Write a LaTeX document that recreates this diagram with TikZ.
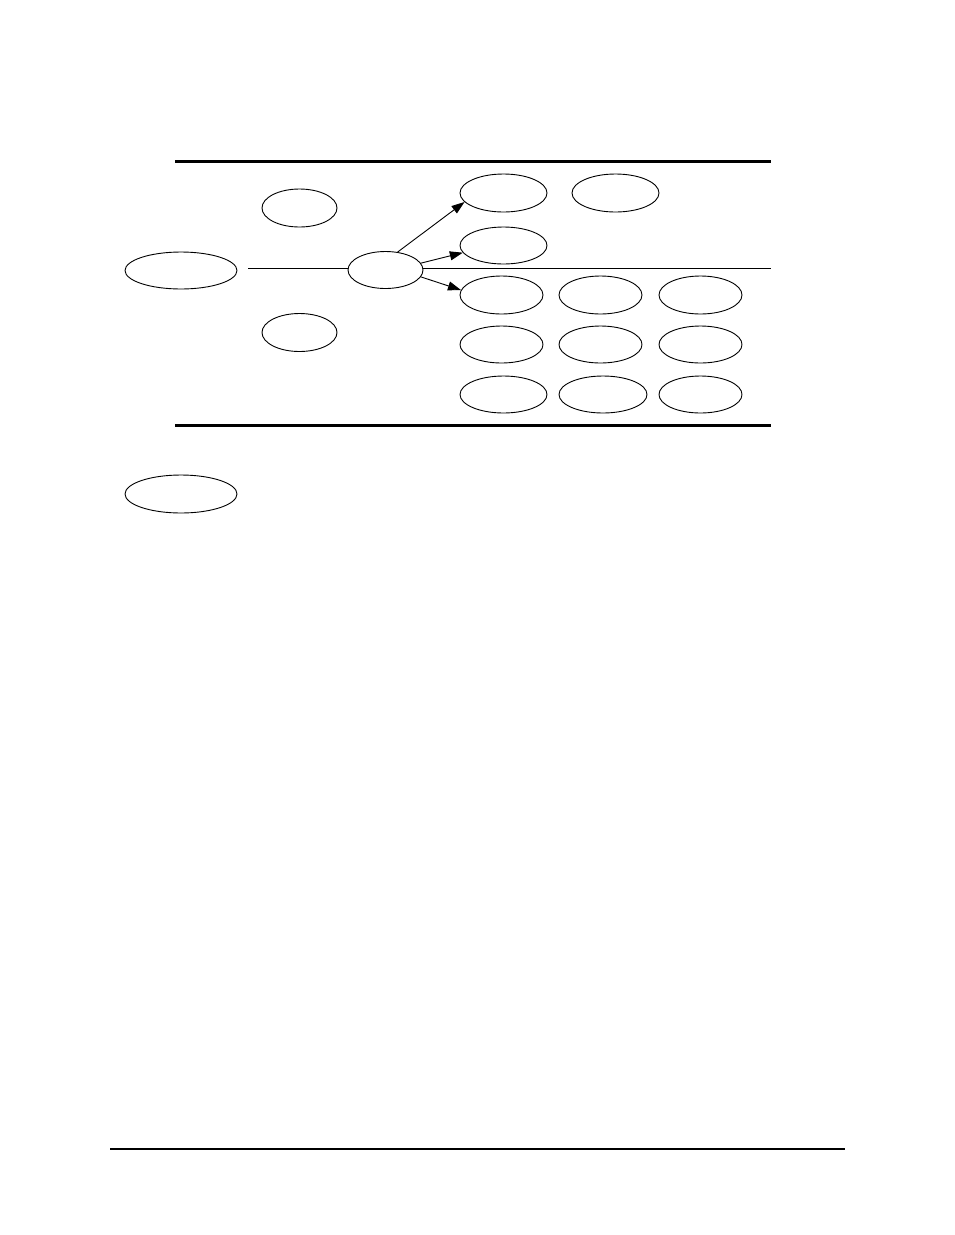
\documentclass[tikz,border=0pt]{standalone}
\usetikzlibrary{shapes.geometric,arrows.meta}
\begin{document}
\begin{tikzpicture}[x=1pt,y=-1pt,
  ell/.style={ellipse,draw,line width=0.9pt,inner sep=0pt,minimum width=#1},
  ell/.default=75pt,
  arr/.style={line width=0.9pt,-{Triangle[length=13pt,width=9pt]}},
  thin/.style={line width=0.9pt},
  thick rule/.style={line width=3pt}]
\useasboundingbox (0,0) rectangle (954,1235);
% rules
\coordinate (t1) at (175,161); \coordinate (t2) at (771,161);
\coordinate (b1) at (175,425); \coordinate (b2) at (771,425);
\coordinate (f1) at (110,1149); \coordinate (f2) at (845,1149);
\draw[thick rule] (t1) -- (t2);
\draw[thick rule] (b1) -- (b2);
\draw[line width=1.3pt] (f1) -- (f2);
% ellipses
\node[ell=112pt,minimum height=37pt] (L) at (181,270.5) {};
\node[ell=112pt,minimum height=38pt] (L2) at (181,494) {};
\node[ell=75pt,minimum height=38pt] (s1) at (299.5,208) {};
\node[ell=75pt,minimum height=38pt] (s2) at (299.5,332.5) {};
\node[ell=75pt,minimum height=37pt] (c) at (385.5,270) {};
\node[ell=87pt,minimum height=38pt] (a1) at (503.5,193) {};
\node[ell=87pt,minimum height=38pt] (a2) at (615.5,193) {};
\node[ell=87pt,minimum height=37pt] (b) at (503.5,245.5) {};
\node[ell=83pt,minimum height=38pt] (r11) at (501.5,295) {};
\node[ell=83pt,minimum height=38pt] (r12) at (600.5,295) {};
\node[ell=83pt,minimum height=38pt] (r13) at (700.5,295) {};
\node[ell=83pt,minimum height=37pt] (r21) at (501.5,344.5) {};
\node[ell=83pt,minimum height=37pt] (r22) at (600.5,344.5) {};
\node[ell=83pt,minimum height=37pt] (r23) at (700.5,344.5) {};
\node[ell=87pt,minimum height=37pt] (r31) at (503.5,394.5) {};
\node[ell=88pt,minimum height=37pt] (r32) at (603,394.5) {};
\node[ell=83pt,minimum height=37pt] (r33) at (700.5,394.5) {};
% connectors
\coordinate (h1) at (248,268);
\coordinate (h2) at (771,268);
\draw[thin] (h1) -- (h1 -| c.west);
\draw[thin] (h2 -| c.east) -- (h2);
\draw[arr] (c.56) -- (a1.193);
\draw[arr] (c.11) -- (b.190);
\draw[arr] (c.349) -- (r11.173);
\end{tikzpicture}
\end{document}
